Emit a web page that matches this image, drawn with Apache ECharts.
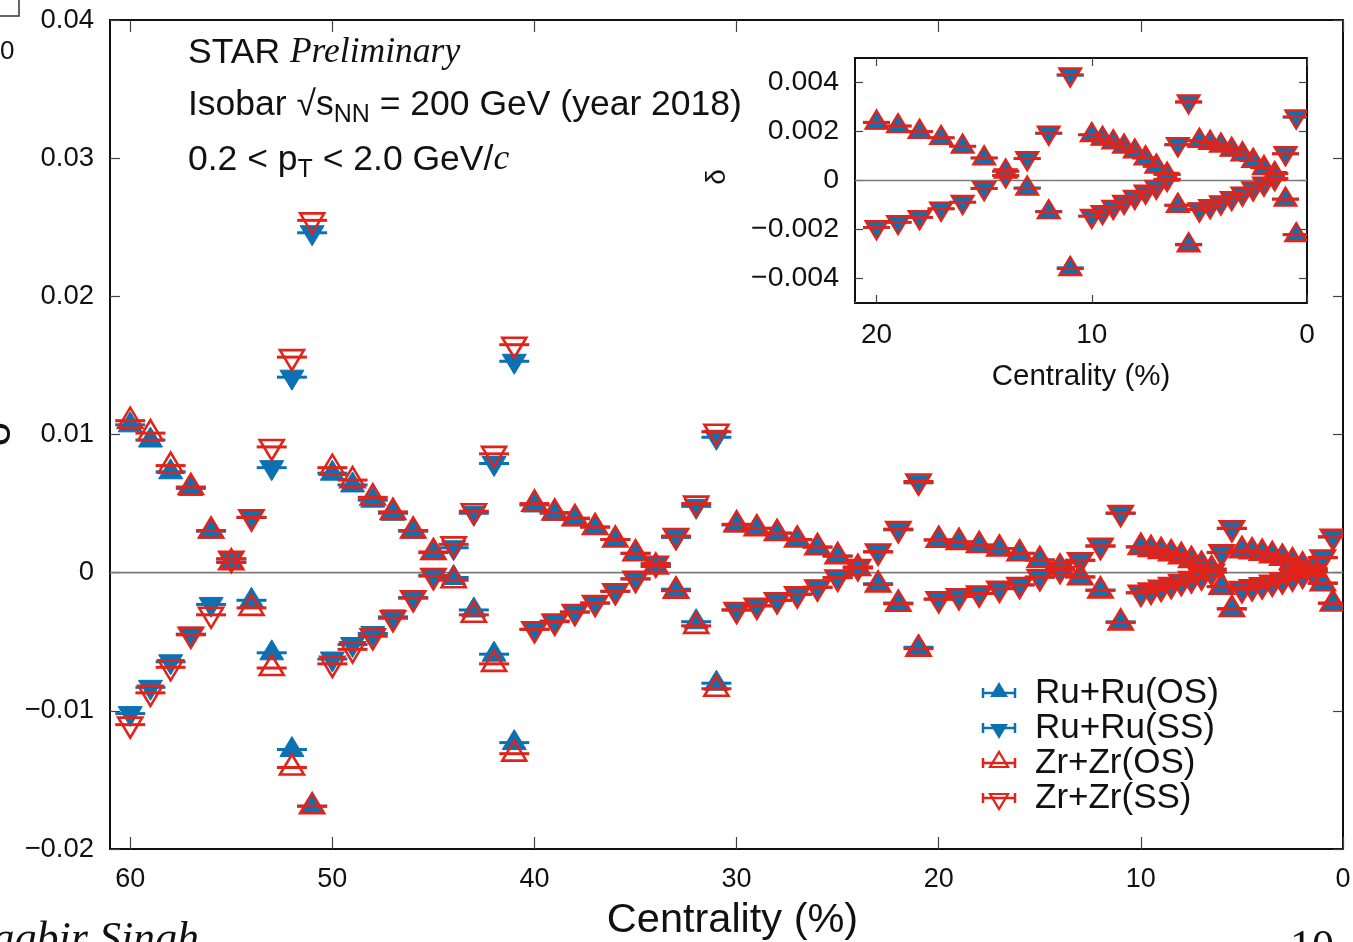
<!DOCTYPE html>
<html>
<head>
<meta charset="utf-8">
<script src="https://cdn.jsdelivr.net/npm/echarts@6/dist/echarts.min.js"></script>
<style>
  html, body { margin: 0; padding: 0; background: #fff; }
  #chart { width: 1353px; height: 942px; }
</style>
</head>
<body>
<div id="chart"></div>
<script>
// Centrality bins (%): 1% bins from 60 to 11, 0.5% bins from 10 to 0.5
const centrality = [60,59,58,57,56,55,54,53,52,51,50,49,48,47,46,45,44,43,42,41,
  40,39,38,37,36,35,34,33,32,31,30,29,28,27,26,25,24,23,22,21,
  20,19,18,17,16,15,14,13,12,11,10,9.5,9,8.5,8,7.5,7,6.5,6,5.5,
  5,4.5,4,3.5,3,2.5,2,1.5,1,0.5];

// delta correlator, opposite-sign and same-sign pairs
const ruOS = [0.0107,0.0096,0.0073,0.0061,0.0030,0.00075,-0.0020,-0.0058,-0.0128,-0.0169,
  0.0072,0.00635,0.00525,0.0043,0.0030,0.00145,-0.00035,-0.0027,-0.0059,-0.0123,
  0.0049,0.0043,0.0039,0.0033,0.0024,0.0014,0.00045,-0.0012,-0.00355,-0.0080,
  0.00345,0.0032,0.00285,0.0024,0.00185,0.0012,0.00035,-0.0008,-0.0022,-0.0054,
  0.00236,0.00222,0.00199,0.00174,0.0014,0.00092,0.00038,-0.0003,-0.00126,-0.00356,
  0.00186,0.00171,0.00157,0.0014,0.00119,0.00092,0.00058,0.00025,-0.0010,-0.0026,
  0.00162,0.00154,0.00144,0.00126,0.00108,0.00081,0.00052,0.00028,-0.00075,-0.0022];

const ruSS = [-0.0102,-0.0083,-0.00645,-0.00445,-0.0023,0.0010,0.0040,0.0076,0.01415,0.0246,
  -0.00625,-0.0052,-0.0044,-0.0032,-0.0018,-0.0002,0.0018,0.0043,0.0079,0.0153,
  -0.0041,-0.0035,-0.00285,-0.0022,-0.00135,-0.00045,0.00065,0.00255,0.0048,0.0098,
  -0.0027,-0.0024,-0.0020,-0.00155,-0.00105,-0.00035,0.0004,0.0015,0.0031,0.0065,
  -0.00191,-0.0017,-0.0015,-0.00115,-0.00088,-0.00032,0.0002,0.00089,0.00192,0.00429,
  -0.00145,-0.00129,-0.00108,-0.00088,-0.00067,-0.00046,-0.00026,0.00005,0.00145,0.00319,
  -0.00118,-0.00105,-0.0009,-0.00072,-0.00054,-0.00033,-0.00013,0.00008,0.00108,0.00258];

const zrOS = [0.0110,0.0101,0.00775,0.0062,0.00305,0.00075,-0.00255,-0.0069,-0.0141,-0.0169,
  0.0076,0.0067,0.00545,0.0044,0.00305,0.0015,-0.00055,-0.00305,-0.0066,-0.0131,
  0.0050,0.00435,0.00395,0.0033,0.0024,0.0014,0.00045,-0.0013,-0.00385,-0.0084,
  0.0035,0.00322,0.00287,0.0024,0.00185,0.0012,0.00035,-0.00085,-0.00225,-0.0055,
  0.00238,0.00223,0.0020,0.00175,0.0014,0.00092,0.00038,-0.00032,-0.00128,-0.0036,
  0.00187,0.00172,0.00157,0.0014,0.0012,0.00092,0.00058,0.00025,-0.00102,-0.00263,
  0.00163,0.00155,0.00144,0.00127,0.00108,0.00082,0.00052,0.00028,-0.00077,-0.00222];

const zrSS = [-0.0110,-0.0087,-0.00685,-0.0045,-0.00305,0.0010,0.0040,0.0091,0.0156,0.0255,
  -0.0066,-0.00555,-0.0046,-0.0033,-0.00185,-0.00025,0.00205,0.00445,0.0086,0.0165,
  -0.0041,-0.00355,-0.00285,-0.0022,-0.00135,-0.00045,0.00065,0.00265,0.0050,0.0102,
  -0.0027,-0.0024,-0.0020,-0.00157,-0.00107,-0.00036,0.0004,0.00152,0.00315,0.0066,
  -0.00192,-0.00171,-0.00151,-0.00116,-0.00089,-0.00033,0.0002,0.0009,0.00194,0.00432,
  -0.00146,-0.0013,-0.00109,-0.00089,-0.00068,-0.00047,-0.00027,0.00005,0.00147,0.00322,
  -0.00119,-0.00106,-0.00091,-0.00073,-0.00055,-0.00034,-0.00014,0.00008,0.0011,0.0026];

// Axis ticks
const mainXTicks = [0, 10, 20, 30, 40, 50, 60];
const mainYTicks = [-0.02, -0.01, 0, 0.01, 0.02, 0.03, 0.04];
const insetXTicks = [0, 10, 20];
const insetYTicks = [-0.004, -0.002, 0, 0.002, 0.004];

const seriesNames = ['Ru+Ru(OS)', 'Ru+Ru(SS)', 'Zr+Zr(OS)', 'Zr+Zr(SS)'];

const BLUE = '#0b71b3';
const RED = '#e2231a';
const SANS = "'Liberation Sans', Arial, Helvetica, sans-serif";
const SERIF = "'Liberation Serif', 'Times New Roman', serif";

function fmtTick(digits) {
  return function (v) {
    if (Math.abs(v) < 1e-12) return '0';
    const s = Math.abs(v).toFixed(digits);
    return v < 0 ? '\u2212' + s : s;
  };
}

// triangle marker with a horizontal bar through it, ROOT style
function markerRenderer(dir, filled, color, k) {
  const half = 12 * k, apex = 13 * k, base = 7 * k, bar = 15 * k;
  return function (params, api) {
    const p = api.coord([api.value(0), api.value(1)]);
    const x = p[0], y = p[1];
    const yApex = y - dir * apex, yBase = y + dir * base;
    return {
      type: 'group',
      children: [
        { type: 'line', shape: { x1: x - bar, y1: y, x2: x + bar, y2: y },
          style: { stroke: color, lineWidth: 3 * k } },
        { type: 'polygon', shape: { points: [[x - half, yBase], [x + half, yBase], [x, yApex]] },
          style: filled ? { fill: color, stroke: color, lineWidth: 1 }
                        : { fill: 'none', stroke: color, lineWidth: 2.6 * k, lineJoin: 'miter' } }
      ]
    };
  };
}

function zeroLine(params, api) {
  const cs = params.coordSys;
  const y = api.coord([0, 0])[1];
  return { type: 'line', shape: { x1: cs.x, y1: y, x2: cs.x + cs.width, y2: y },
           style: { stroke: '#7a7a7a', lineWidth: 1.6 } };
}

function pairs(vals, maxC) {
  const out = [];
  centrality.forEach((c, i) => { if (c <= maxC) out.push([c, vals[i]]); });
  return out;
}

const seriesDefs = [
  { name: seriesNames[0], vals: ruOS, dir: 1, filled: true, color: BLUE },
  { name: seriesNames[1], vals: ruSS, dir: -1, filled: true, color: BLUE },
  { name: seriesNames[2], vals: zrOS, dir: 1, filled: false, color: RED },
  { name: seriesNames[3], vals: zrSS, dir: -1, filled: false, color: RED }
];

const series = [
  { type: 'custom', name: 'zero-main', xAxisIndex: 0, yAxisIndex: 0, data: [[0, 0]],
    renderItem: zeroLine, silent: true, z: 1 },
  { type: 'custom', name: 'zero-inset', xAxisIndex: 2, yAxisIndex: 2, data: [[0, 0]],
    renderItem: zeroLine, silent: true, z: 11 }
];
seriesDefs.forEach((d, i) => {
  series.push({
    type: 'custom', name: d.name, xAxisIndex: 0, yAxisIndex: 0, clip: true, z: 2 + i,
    encode: { x: 0, y: 1 }, data: pairs(d.vals, 61),
    renderItem: markerRenderer(d.dir, d.filled, d.color, 1)
  });
  series.push({
    type: 'custom', name: d.name + ' (0-20%)', xAxisIndex: 2, yAxisIndex: 2, clip: true, z: 12 + i,
    encode: { x: 0, y: 1 }, data: pairs(d.vals, 21),
    renderItem: markerRenderer(d.dir, d.filled, d.color, 0.9)
  });
});

// text laid out piece by piece, measured with the same fonts
const mctx = document.createElement('canvas').getContext('2d');
function fontOf(p) { return (p.italic ? 'italic ' : '') + p.size + 'px ' + (p.family || SANS); }
function textRun(x, y, parts, z) {
  const out = [];
  let cx = x;
  parts.forEach(p => {
    const f = fontOf(p);
    mctx.font = f;
    out.push({
      type: 'text', x: cx, y: y + (p.dy || 0), z: z || 50,
      style: { text: p.t, font: f, fill: '#111', align: 'left', verticalAlign: 'middle',
               textAlign: 'left', textVerticalAlign: 'middle' }
    });
    cx += mctx.measureText(p.t).width;
  });
  return out;
}

const TS = 35.5;
const SUB = 25;
const graphics = [].concat(
  textRun(188, 53, [{ t: 'STAR ', size: TS }, { t: 'Preliminary', size: TS, italic: true, family: SERIF }]),
  textRun(188, 105, [{ t: 'Isobar \u221As', size: TS }, { t: 'NN', size: SUB, dy: 10 },
                     { t: ' = 200 GeV (year 2018)', size: TS }]),
  textRun(188, 160, [{ t: '0.2 < p', size: TS }, { t: 'T', size: SUB, dy: 10 },
                     { t: ' < 2.0 GeV/', size: TS }, { t: 'c', size: TS, italic: true, family: SERIF }])
);

// legend
const legendRows = [693, 728, 763, 798];
seriesDefs.forEach((d, i) => {
  const y = legendRows[i], x = 999;
  const yApex = y - d.dir * 11, yBase = y + d.dir * 4;
  graphics.push({
    type: 'group', z: 60,
    children: [
      { type: 'line', shape: { x1: x - 16, y1: y, x2: x + 16, y2: y }, style: { stroke: d.color, lineWidth: 2.5 } },
      { type: 'line', shape: { x1: x - 16, y1: y - 5, x2: x - 16, y2: y + 5 }, style: { stroke: d.color, lineWidth: 2.5 } },
      { type: 'line', shape: { x1: x + 16, y1: y - 5, x2: x + 16, y2: y + 5 }, style: { stroke: d.color, lineWidth: 2.5 } },
      { type: 'polygon', shape: { points: [[x - 9, yBase], [x + 9, yBase], [x, yApex]] },
        style: d.filled ? { fill: d.color } : { fill: 'none', stroke: d.color, lineWidth: 2.2 } }
    ]
  });
  graphics.push({
    type: 'text', x: 1035, y: y, z: 60,
    style: { text: d.name, font: '35px ' + SANS, fill: '#111', align: 'left', verticalAlign: 'middle',
             textAlign: 'left', textVerticalAlign: 'middle' }
  });
});

// y axis titles (rotated delta)
graphics.push({ type: 'text', x: -2, y: 434, rotation: Math.PI / 2, z: 50,
  style: { text: '\u03b4', font: '44px ' + SANS, fill: '#111', align: 'center', verticalAlign: 'middle',
           textAlign: 'center', textVerticalAlign: 'middle' } });
graphics.push({ type: 'text', x: 717, y: 177, rotation: Math.PI / 2, z: 50,
  style: { text: '\u03b4', font: '28px ' + SANS, fill: '#111', align: 'center', verticalAlign: 'middle',
           textAlign: 'center', textVerticalAlign: 'middle' } });

// slide margin items
graphics.push({ type: 'text', x: 0, y: 52, z: 50,
  style: { text: '0', font: '26px ' + SANS, fill: '#111', align: 'left', verticalAlign: 'middle',
           textAlign: 'left', textVerticalAlign: 'middle' } });
graphics.push({ type: 'polyline', z: 50, shape: { points: [[0, 16], [19, 16], [19, 0]] },
  style: { stroke: '#333', lineWidth: 1.5, fill: 'none' } });
graphics.push({ type: 'text', x: -27, y: 918, z: 50,
  style: { text: 'Jagbir Singh', font: 'italic 44px ' + SERIF, fill: '#111', align: 'left', verticalAlign: 'top',
           textAlign: 'left', textVerticalAlign: 'top' } });
graphics.push({ type: 'text', x: 1290, y: 926, z: 50,
  style: { text: '10', font: '44px ' + SERIF, fill: '#111', align: 'left', verticalAlign: 'top',
           textAlign: 'left', textVerticalAlign: 'top' } });

function labelStyle(size) { return { fontFamily: SANS, fontSize: size, color: '#111' }; }

function xAxisDef(gridIndex, max, ticks, isTop, tickLen, withLabels, labelSize, margin, nameOpts) {
  return Object.assign({
    type: 'value', gridIndex: gridIndex, position: isTop ? 'top' : 'bottom',
    min: 0, max: max, inverse: true,
    splitLine: { show: false },
    axisLine: { show: true, onZero: false, lineStyle: { color: '#111', width: 2 } },
    axisTick: { show: true, inside: true, length: tickLen, customValues: ticks,
                lineStyle: { color: '#444', width: 1.2 } },
    axisLabel: { show: withLabels, customValues: ticks, margin: margin, ...labelStyle(labelSize) }
  }, nameOpts || {});
}
function yAxisDef(gridIndex, min, max, ticks, isRight, tickLen, withLabels, digits, labelSize) {
  return {
    type: 'value', gridIndex: gridIndex, position: isRight ? 'right' : 'left',
    min: min, max: max,
    splitLine: { show: false },
    axisLine: { show: true, onZero: false, lineStyle: { color: '#111', width: 2 } },
    axisTick: { show: true, inside: true, length: tickLen, customValues: ticks,
                lineStyle: { color: '#444', width: 1.2 } },
    axisLabel: { show: withLabels, customValues: ticks, margin: 16, formatter: fmtTick(digits),
                 ...labelStyle(labelSize) }
  };
}

const option = {
  backgroundColor: '#fff',
  animation: false,
  grid: [
    { left: 110, top: 20, width: 1233, height: 829, containLabel: false, outerBoundsMode: 'none' },
    { left: 855, top: 58, width: 452, height: 245, containLabel: false, outerBoundsMode: 'none',
      show: true, backgroundColor: '#fff', borderWidth: 0, z: 10 }
  ],
  xAxis: [
    xAxisDef(0, 61, mainXTicks, false, 12, true, 27, 17,
      { name: 'Centrality (%)', nameLocation: 'middle', nameGap: 51,
        nameTextStyle: { fontFamily: SANS, fontSize: 41.5, color: '#111', padding: [0, 0, 0, 12] } }),
    xAxisDef(0, 61, mainXTicks, true, 12, false, 27, 17),
    Object.assign(xAxisDef(1, 21, insetXTicks, false, 8, true, 28, 18,
      { name: 'Centrality (%)', nameLocation: 'middle', nameGap: 59,
        nameTextStyle: { fontFamily: SANS, fontSize: 29.5, color: '#111' } }), { z: 10 }),
    Object.assign(xAxisDef(1, 21, insetXTicks, true, 8, false, 28, 18), { z: 10 })
  ],
  yAxis: [
    yAxisDef(0, -0.02, 0.04, mainYTicks, false, 10, true, 2, 27.5),
    yAxisDef(0, -0.02, 0.04, mainYTicks, true, 10, false, 2, 27.5),
    Object.assign(yAxisDef(1, -0.005, 0.005, insetYTicks, false, 8, true, 3, 28.5), { z: 10 }),
    Object.assign(yAxisDef(1, -0.005, 0.005, insetYTicks, true, 8, false, 3, 28.5), { z: 10 })
  ],
  series: series,
  graphic: { elements: graphics }
};

const chart = echarts.init(document.getElementById('chart'), null, { renderer: 'canvas' });
chart.setOption(option);
</script>
</body>
</html>
